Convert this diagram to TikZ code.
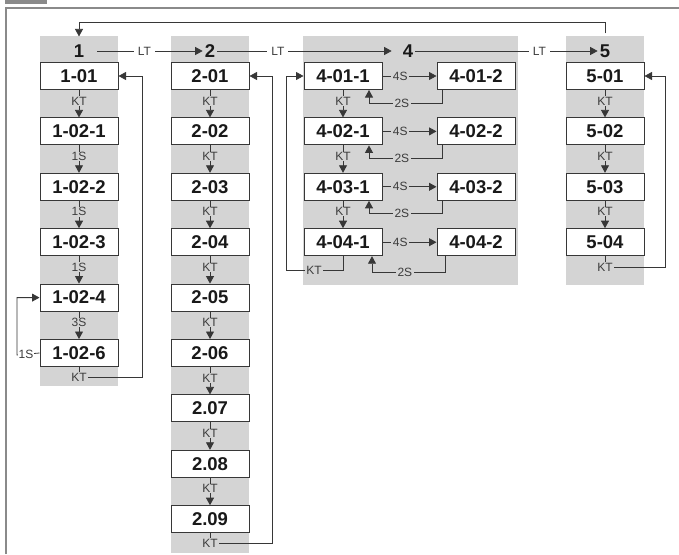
\documentclass[tikz,border=0pt]{standalone}
\usepackage{fontspec}
\setmainfont{Liberation Sans}
\usetikzlibrary{arrows.meta}
\definecolor{colgray}{RGB}{212,212,212}
\definecolor{framegray}{RGB}{138,138,138}
\definecolor{linecol}{RGB}{55,55,55}
\definecolor{lblcol}{RGB}{60,60,60}
\begin{document}
\begin{tikzpicture}[x=1pt,y=-1pt,
 box/.style={draw=linecol, line width=1pt, fill=white, minimum width=78pt, minimum height=27pt, inner sep=0pt, font=\fontsize{18.5}{20}\bfseries\selectfont, text=black!90},
 hdr/.style={inner xsep=2pt, inner ysep=8pt, font=\fontsize{18.5}{20}\bfseries\selectfont, text=black!90},
 lbl/.style={inner xsep=1.5pt, inner ysep=0.5pt, font=\fontsize{12}{13}\selectfont, text=lblcol, fill=colgray},
 lblw/.style={lbl, fill=white, inner xsep=4pt},
 conn/.style={draw=linecol, line width=0.8pt},
 arr/.style={conn, -{Triangle[length=7.5pt,width=8pt]}},
]
\useasboundingbox (0,0) rectangle (679,554);
% frame
\fill[framegray] (5,0) rectangle (47,4);
\draw[framegray, line width=2.5pt] (6,554) -- (6,8) -- (679,8);
% columns
\fill[colgray] (40,36) rectangle (118,386);
\fill[colgray] (171,36) rectangle (249,553);
\fill[colgray] (303,36) rectangle (518,285);
\fill[colgray] (566,36) rectangle (644,285);
% headers
\node[hdr] (h1) at (79,51) {1};
\node[hdr] (h2) at (210,51) {2};
\node[hdr] (h4) at (408,51) {4};
\node[hdr] (h5) at (605,51) {5};
\draw[arr, shorten <=11pt] (h1.east) -- node[lblw,pos=0.5]{LT} (h2.west);
\draw[arr, shorten >=9pt] (h2.east) -- node[lblw,pos=0.33]{LT} (h4.west);
\draw[arr] (h4.east) -- node[lblw,pos=0.68]{LT} (h5.west);
\coordinate (tl) at (0,22);
\draw[arr, shorten <=3pt] (h5.north) |- (tl -| h1.north) -- (h1.north);
% column 1
\node[box] (a1) at (79,76) {1-01};
\node[box] (a2) at (79,131.4) {1-02-1};
\node[box] (a3) at (79,186.8) {1-02-2};
\node[box] (a4) at (79,242.2) {1-02-3};
\node[box] (a5) at (79,297.6) {1-02-4};
\node[box] (a6) at (79,353) {1-02-6};
\draw[arr] (a1.south) -- node[lbl,pos=0.4]{KT} (a2.north);
\draw[arr] (a2.south) -- node[lbl,pos=0.4]{1S} (a3.north);
\draw[arr] (a3.south) -- node[lbl,pos=0.4]{1S} (a4.north);
\draw[arr] (a4.south) -- node[lbl,pos=0.4]{1S} (a5.north);
\draw[arr] (a5.south) -- node[lbl,pos=0.4]{3S} (a6.north);
\node[lbl] (ka) at (79,377) {KT};
\draw[conn] (a6.south) -- (ka.north);
\coordinate (ra) at (142,76);
\draw[arr] (ka.east) -| (ra) -- (a1.east);
\coordinate (la) at (17,355);
\draw[arr] (a6.west) -- node[lblw,inner xsep=1pt,pos=0.6]{1S} (la) |- (a5.west);
% column 2
\node[box] (c1) at (210,76) {2-01};
\node[box] (c2) at (210,131.4) {2-02};
\node[box] (c3) at (210,186.8) {2-03};
\node[box] (c4) at (210,242.2) {2-04};
\node[box] (c5) at (210,297.6) {2-05};
\node[box] (c6) at (210,353) {2-06};
\node[box] (c7) at (210,408.4) {2.07};
\node[box] (c8) at (210,463.8) {2.08};
\node[box] (c9) at (210,519.2) {2.09};
\foreach \p/\q in {c1/c2,c2/c3,c3/c4,c4/c5,c5/c6,c6/c7,c7/c8,c8/c9}
  \draw[arr] (\p.south) -- node[lbl,pos=0.4]{KT} (\q.north);
\node[lbl] (kc) at (210,543) {KT};
\draw[conn] (c9.south) -- (kc.north);
\coordinate (rc) at (272,76);
\draw[arr] (kc.east) -| (rc) -- (c1.east);
% column 4
\node[box] (d11) at (343,76) {4-01-1};
\node[box] (d12) at (476,76) {4-01-2};
\node[box] (d21) at (343,131.4) {4-02-1};
\node[box] (d22) at (476,131.4) {4-02-2};
\node[box] (d31) at (343,186.8) {4-03-1};
\node[box] (d32) at (476,186.8) {4-03-2};
\node[box] (d41) at (343,242.2) {4-04-1};
\node[box] (d42) at (476,242.2) {4-04-2};
\foreach \p/\q in {d11/d21,d21/d31,d31/d41}
  \draw[arr] (\p.south) -- node[lbl,pos=0.4]{KT} (\q.north);
\foreach \p/\q in {d11/d12,d21/d22,d31/d32,d41/d42}
  \draw[arr] (\p.east) -- node[lbl,pos=0.33]{4S} (\q.west);
\coordinate (s1) at (442,103);   \coordinate (t1) at (369,103);
\coordinate (s2) at (442,158.4); \coordinate (t2) at (369,158.4);
\coordinate (s3) at (442,213.8); \coordinate (t3) at (369,213.8);
\coordinate (s4) at (445,272);   \coordinate (t4) at (372,272);
\draw[arr] (d12.south -| s1) -- (s1) -- node[lbl,pos=0.55]{2S} (t1) -- (t1 |- d11.south);
\draw[arr] (d22.south -| s2) -- (s2) -- node[lbl,pos=0.55]{2S} (t2) -- (t2 |- d21.south);
\draw[arr] (d32.south -| s3) -- (s3) -- node[lbl,pos=0.55]{2S} (t3) -- (t3 |- d31.south);
\draw[arr] (d42.south -| s4) -- (s4) -- node[lbl,pos=0.55]{2S} (t4) -- (t4 |- d41.south);
\node[lbl] (kd) at (314,270) {KT};
\draw[conn] (d41.south) |- (kd.east);
\coordinate (rd) at (286,76);
\draw[arr] (kd.west) -| (rd) -- (d11.west);
% column 5
\node[box] (e1) at (605,76) {5-01};
\node[box] (e2) at (605,131.4) {5-02};
\node[box] (e3) at (605,186.8) {5-03};
\node[box] (e4) at (605,242.2) {5-04};
\foreach \p/\q in {e1/e2,e2/e3,e3/e4}
  \draw[arr] (\p.south) -- node[lbl,pos=0.4]{KT} (\q.north);
\node[lbl] (ke) at (605,267) {KT};
\draw[conn] (e4.south) -- (ke.north);
\coordinate (re) at (665,76);
\draw[arr] (ke.east) -| (re) -- (e1.east);
\end{tikzpicture}
\end{document}
